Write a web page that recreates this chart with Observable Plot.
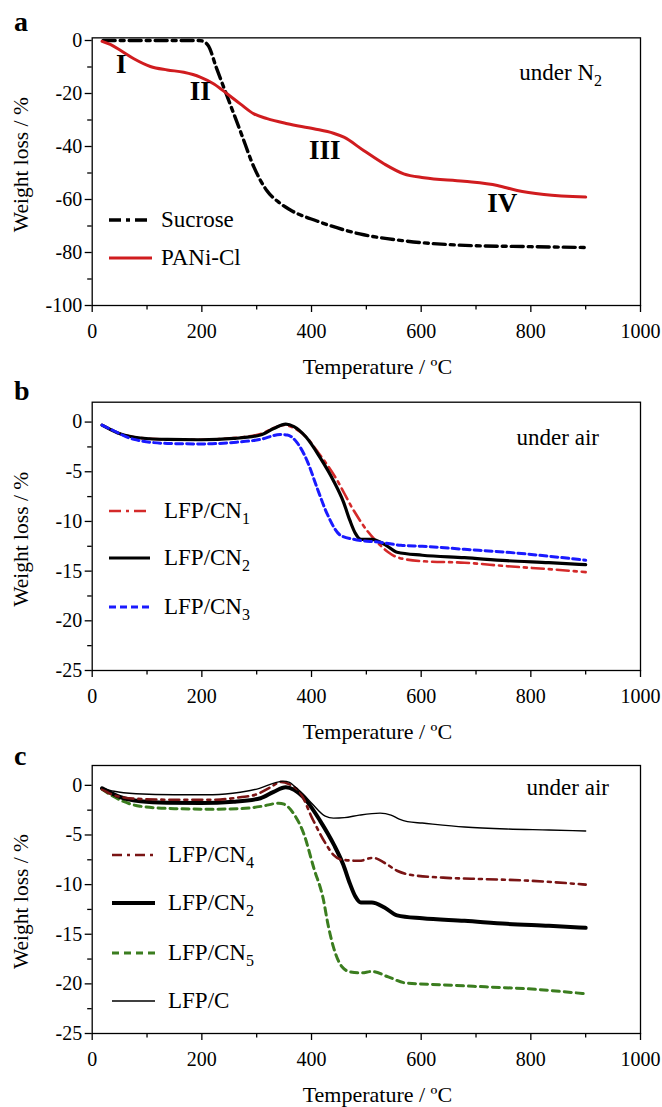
<!DOCTYPE html>
<html><head><meta charset="utf-8">
<script src="https://cdn.jsdelivr.net/npm/d3@7"></script>
<script src="https://cdn.jsdelivr.net/npm/@observablehq/plot@0.6"></script>
<style>
html,body{margin:0;padding:0;background:#fff;}
#chart{position:relative;width:662px;height:1107px;font-family:'Liberation Serif','Times New Roman',serif;color:#000;overflow:hidden;}
.panel{position:absolute;left:0;}
.lbl{position:absolute;white-space:nowrap;line-height:1;}
.sub{font-size:16px;position:relative;top:6px;}
.sw{position:absolute;overflow:visible;}
</style></head><body><div id="chart"></div>
<script>
// ---------- data ----------
const xMajor = [0, 200, 400, 600, 800, 1000];
const xMinor = [100, 300, 500, 700, 900];
const yMajorA = [0, -20, -40, -60, -80, -100];
const yMinorA = [-10, -30, -50, -70, -90];
const yMajorBC = [0, -5, -10, -15, -20, -25];
const yMinorBC = [-2.5, -7.5, -12.5, -17.5, -22.5];
const xTitle = "Temperature / \u00baC";
const yTitle = "Weight loss / %";
const panelLetters = ["a", "b", "c"];
const atmosphere = ["under N", "under air", "under air"];

// panel a (temperature °C, weight loss %)
const sucrose = [[20,0],[100,0],[195,0],[205,-0.6],[212,-2],[226,-10],[249,-22.6],[272,-35.2],[295,-47.8],[318,-56.5],[340,-61],[360,-63.8],[411,-68.2],[488,-73],[565,-75.5],[680,-77.3],[800,-77.8],[900,-78.1]];
const pani = [[18,-0.3],[33,-1.5],[52,-3.8],[76,-6.9],[106,-9.8],[137,-11.1],[167,-12],[197,-13.8],[222,-16.4],[246,-20.1],[270,-23.9],[295,-27.7],[319,-29.5],[356,-31.4],[404,-33.3],[440,-35],[459,-36.5],[495,-41.5],[532,-46.5],[568,-50.3],[605,-51.8],[678,-53.1],[739,-54.7],[775,-56.6],[824,-58.1],[900,-59.1]];
const numerals = ["I", "II", "III", "IV"];
const numeralT = [53, 197, 424, 748];
const numeralW = [-9, -19.2, -41.3, -61.5];

// panel b / c
const cn1 = [[18,-0.3],[52,-1.2],[88,-1.6],[137,-1.75],[198,-1.78],[258,-1.6],[307,-1.2],[331,-0.6],[350,-0.3],[368,-0.6],[392,-1.6],[410,-2.9],[444,-5.6],[477,-8.9],[501,-10.9],[520,-12.1],[540,-13.1],[556,-13.6],[602,-14],[679,-14.15],[756,-14.5],[833,-14.8],[900,-15.1]];
const cn2 = [[18,-0.3],[52,-1.2],[88,-1.6],[137,-1.75],[198,-1.78],[258,-1.65],[307,-1.3],[331,-0.65],[353,-0.2],[368,-0.45],[390,-1.5],[416,-3.6],[441,-6.0],[458,-8.0],[470,-9.9],[480,-11.2],[490,-11.8],[510,-11.8],[533,-12.3],[556,-13.1],[602,-13.4],[679,-13.65],[756,-13.95],[833,-14.15],[900,-14.35]];
const cn3 = [[18,-0.3],[40,-0.9],[76,-1.74],[137,-2.15],[198,-2.2],[258,-2.05],[307,-1.74],[343,-1.25],[356,-1.3],[374,-2.1],[392,-3.9],[410,-6.6],[429,-9.3],[453,-11.4],[477,-11.8],[525,-12.1],[563,-12.4],[602,-12.5],[679,-12.8],[756,-13.1],[833,-13.5],[900,-13.9]];
const cn4 = [[18,-0.4],[40,-1.0],[80,-1.35],[150,-1.45],[220,-1.45],[270,-1.2],[300,-0.9],[325,-0.2],[344,0.35],[360,0.1],[380,-0.8],[402,-3.4],[425,-5.8],[440,-7.0],[456,-7.5],[487,-7.6],[512,-7.3],[533,-7.8],[556,-8.6],[579,-9.0],[640,-9.3],[717,-9.45],[795,-9.6],[900,-10.0]];
const cn5 = [[18,-0.4],[35,-1.0],[56,-1.6],[87,-2.1],[150,-2.35],[220,-2.4],[270,-2.35],[310,-2.1],[340,-1.8],[350,-1.9],[368,-2.9],[386,-4.9],[404,-8.3],[422,-11.6],[430,-14.0],[440,-16.3],[456,-18.3],[471,-18.8],[490,-18.9],[510,-18.75],[540,-19.3],[571,-19.9],[640,-20.1],[717,-20.3],[795,-20.5],[900,-21]];
const lfpc = [[18,-0.25],[40,-0.6],[80,-0.85],[150,-0.95],[220,-0.95],[270,-0.7],[305,-0.3],[330,0.2],[348,0.43],[360,0.3],[371,-0.2],[385,-0.9],[402,-1.9],[425,-3.1],[440,-3.3],[460,-3.25],[487,-3.0],[525,-2.8],[545,-3.0],[560,-3.4],[575,-3.65],[602,-3.8],[679,-4.2],[756,-4.4],[833,-4.5],[900,-4.6]];

// ---------- styles ----------
const S = {
  sucrose: {color: "#000", width: 3.4, dash: "12,5,4,5", label: ["Sucrose", ""]},
  pani:    {color: "#d01c1f", width: 3, dash: null, label: ["PANi-Cl", ""]},
  cn1:     {color: "#d42a2a", width: 2.6, dash: "12,5,3,5", label: ["LFP/CN", "1"]},
  cn2:     {color: "#000", width: 3.2, dash: null, label: ["LFP/CN", "2"]},
  cn2c:    {color: "#000", width: 4, dash: null, label: ["LFP/CN", "2"]},
  cn3:     {color: "#1a1aff", width: 3, dash: "7,4", label: ["LFP/CN", "3"]},
  cn4:     {color: "#7a1414", width: 2.6, dash: "10,5,3,5", label: ["LFP/CN", "4"]},
  cn5:     {color: "#3b7d1f", width: 3, dash: "7,5", label: ["LFP/CN", "5"]},
  lfpc:    {color: "#000", width: 1.4, dash: null, label: ["LFP/C", ""]}
};

const FONT = "'Liberation Serif', 'Times New Roman', serif";

function panel({height, mt, mb, yDomain, yMajor, yMinor, series, extra = [], yDy = 0}) {
  return Plot.plot({
    width: 662, height,
    marginLeft: 91.7, marginRight: 22, marginTop: mt, marginBottom: mb,
    x: {domain: [0, 1000], label: null},
    y: {domain: yDomain, label: null},
    style: {fontFamily: FONT, fontSize: "20px", color: "#000", background: "transparent", overflow: "visible"},
    marks: [
      Plot.axisX({ticks: xMajor, tickSize: 7, tickPadding: 11, tickFormat: d => String(d), strokeWidth: 1.3, fontSize: 20, label: null}),
      Plot.axisX({ticks: xMinor, tickSize: 4.5, text: null, strokeWidth: 1.3, label: null}),
      Plot.axisY({ticks: yMajor, tickSize: 7, tickPadding: 3, tickFormat: d => String(d), strokeWidth: 1.3, fontSize: 20, label: null}),
      Plot.axisY({ticks: yMinor, tickSize: 4.5, text: null, strokeWidth: 1.3, label: null}),
      ...series.map(([data, s]) => Plot.line(data, {x: d => d[0], y: d => d[1], stroke: s.color, strokeWidth: s.width, strokeDasharray: s.dash, curve: "monotone-x"})),
      ...extra,
      Plot.frame({stroke: "#000", strokeWidth: 1.3}),
      Plot.text([xTitle], {text: d => d, frameAnchor: "bottom", textAnchor: "middle", dy: 68, dx: 11, lineAnchor: "bottom", fontSize: 22}),
      Plot.text([yTitle], {text: d => d, frameAnchor: "left", textAnchor: "middle", rotate: -90, dx: -79.7, dy: yDy, lineAnchor: "top", fontSize: 21.5})
    ]
  });
}

const chart = document.getElementById("chart");
function place(svg, top) {
  const div = document.createElement("div");
  div.className = "panel";
  div.style.top = top + "px";
  div.appendChild(svg);
  chart.appendChild(div);
}

place(panel({
  height: 380, mt: 37.35, mb: 75, yDomain: [-100, 1], yMajor: yMajorA, yMinor: yMinorA, yDy: -7,
  series: [[sucrose, S.sucrose], [pani, S.pani]],
  extra: [Plot.text(numerals, {x: (d, i) => numeralT[i], y: (d, i) => numeralW[i], text: d => d, fontSize: 27, fontWeight: "bold", lineAnchor: "middle"})]
}), 0);

place(panel({
  height: 365, mt: 21.7, mb: 75, yDomain: [-25, 2], yMajor: yMajorBC, yMinor: yMinorBC, yDy: 3,
  series: [[cn1, S.cn1], [cn2, S.cn2], [cn3, S.cn3]]
}), 380);

place(panel({
  height: 362, mt: 20, mb: 74, yDomain: [-25, 2], yMajor: yMajorBC, yMinor: yMinorBC, yDy: 2,
  series: [[cn5, S.cn5], [cn2, S.cn2c], [cn4, S.cn4], [lfpc, S.lfpc]]
}), 745);

// ---------- HTML labels (panel letters, atmosphere notes, legends) ----------
function label(html, {left, right, baseline, size, weight = "normal"}) {
  const el = document.createElement("div");
  el.className = "lbl";
  el.innerHTML = html;
  el.style.fontSize = size + "px";
  el.style.fontWeight = weight;
  el.style.top = (baseline - 0.8375 * size) + "px";
  if (left != null) el.style.left = left + "px";
  if (right != null) el.style.right = (662 - right) + "px";
  chart.appendChild(el);
}
const letterBaselines = [31.7, 400, 765];
panelLetters.forEach((t, i) => label(t, {left: 14, baseline: letterBaselines[i], size: 28, weight: "bold"}));

label(atmosphere[0] + '<span class="sub">2</span>', {right: 602, baseline: 80, size: 23});
label(atmosphere[1], {right: 599, baseline: 445, size: 23});
label(atmosphere[2], {right: 609, baseline: 795, size: 23});

function legend(entries, ys, x1, x2, textLeft) {
  entries.forEach((s, i) => {
    const y = ys[i];
    const svg = d3.create("svg").attr("class", "sw")
      .attr("width", x2 - x1).attr("height", 10)
      .style("left", x1 + "px").style("top", (y - 5) + "px");
    svg.append("line").attr("x1", 0).attr("x2", x2 - x1).attr("y1", 5).attr("y2", 5)
      .attr("stroke", s.color).attr("stroke-width", s.width)
      .attr("stroke-dasharray", s.dash);
    chart.appendChild(svg.node());
    const [main, sub] = s.label;
    label(main + (sub ? `<span class="sub">${sub}</span>` : ""), {left: textLeft, baseline: y + 7.5, size: 23});
  });
}
legend([S.sucrose, S.pani], [220, 258], 109, 152, 161);
legend([S.cn1, S.cn2, S.cn3], [511, 558, 607], 109, 150, 164);
legend([S.cn4, S.cn2c, S.cn5, S.lfpc], [855, 903, 953, 1001], 112, 155, 168);
</script></body></html>
